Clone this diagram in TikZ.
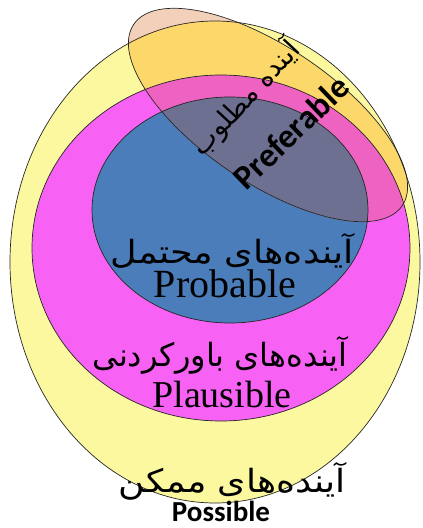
\documentclass[tikz,border=0pt]{standalone}
\usepackage{fontspec}
\TeXXeTstate=1
\newfontfamily\arabicfont[Script=Arabic]{DejaVu Sans}
\newfontfamily\serifen{Liberation Serif}
\newfontfamily\sansen{Carlito}
\definecolor{possY}{HTML}{FBF8A0}
\definecolor{plausM}{HTML}{F862F4}
\definecolor{probB}{HTML}{4B7DBA}
\definecolor{prefW}{HTML}{F3D0BA}
\definecolor{prefY}{HTML}{FCD86A}
\definecolor{prefM}{HTML}{EE62C2}
\definecolor{prefB}{HTML}{6D7090}
\begin{document}
\begin{tikzpicture}[x=1pt,y=1pt,
  edge/.style={draw=black!85,line width=0.7pt},
  fatxt/.style={font=\arabicfont\fontsize{32}{36}\selectfont,inner sep=0pt,transform shape},
  entxt/.style={font=\serifen\fontsize{38}{40}\selectfont,inner sep=0pt,anchor=base},
  sbtxt/.style={font=\sansen\bfseries\fontsize{29}{32}\selectfont,inner sep=0pt}]
\useasboundingbox (0,0) rectangle (423,528);
\def\yell{(215,266) ellipse [x radius=205,y radius=241]}
\def\mag{(221,280) ellipse [x radius=189,y radius=173]}
\def\blu{(230,318) ellipse [x radius=138,y radius=113]}
\def\pref{[rotate around={-34:(268,413)}] (268,413) ellipse [x radius=162,y radius=68]}
% base fills
\fill[possY] \yell;
\fill[plausM] \mag;
\fill[probB] \blu;
% preferable overlay
\begin{scope}
  \clip \pref;
  \fill[prefW] (0,0) rectangle (423,528);
  \fill[prefY] \yell;
  \fill[prefM] \mag;
  \fill[prefB] \blu;
\end{scope}
% outlines
\draw[edge] \yell;
\draw[edge] \mag;
\draw[edge] \blu;
\draw[edge] \pref;
% labels
\node[fatxt,font=\arabicfont\fontsize{27}{30}\selectfont,rotate=47] (prefFa) at (245,430) {\beginR آینده مطلوب\endR};
\node[sbtxt,font=\sansen\bfseries\fontsize{34}{36}\selectfont,rotate=44] (prefEn) at (291,396) {Preferable};
\node[fatxt,xscale=1.14] (probFa) at (232,277) {\beginR آینده‌های محتمل\endR};
\node[entxt,font=\serifen\fontsize{40}{42}\selectfont] (probEn) at (225,230) {Probable};
\node[fatxt] (plausFa) at (220,173) {\beginR آینده‌های باورکردنی\endR};
\node[entxt] (plausEn) at (222,120) {Plausible};
\node[fatxt,xscale=1.13] (possFa) at (232,47) {\beginR آینده‌های ممکن\endR};
\node[sbtxt,anchor=base] (possEn) at (221,6) {Possible};
\end{tikzpicture}
\end{document}
